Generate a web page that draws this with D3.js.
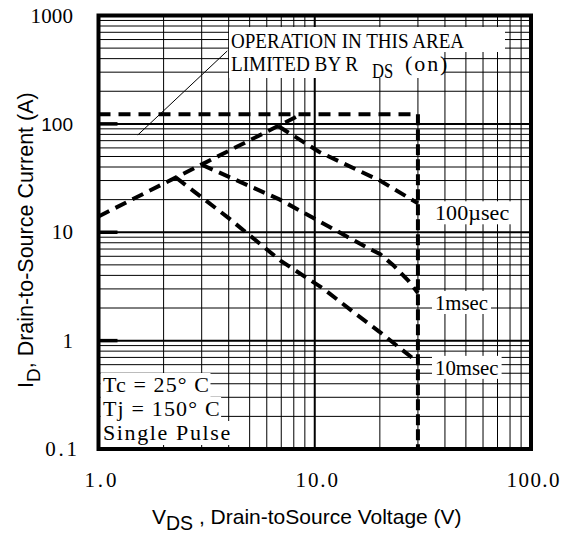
<!DOCTYPE html>
<html>
<head>
<meta charset="utf-8">
<script src="https://cdn.jsdelivr.net/npm/d3@7"></script>
<style>
  html, body { margin: 0; padding: 0; background: #fff; }
  svg { display: block; }
</style>
</head>
<body>
<svg id="chart" width="568" height="535"></svg>
<script>
// ---------------- data ----------------
const xDomain = [1, 100];
const yDomain = [0.1, 1000];
const xTickValues = [1, 10, 100];
const xTickLabels = ["1.0", "10.0", "100.0"];
const yTickValues = [1000, 100, 10, 1, 0.1];
const yTickLabels = ["1000", "100", "10", "1", "0.1"];
const yMajorMarks = [100, 10, 1];

const rdsLimit = [[1, 14], [8.7, 123]];
const currentLimit = [[1, 123], [30, 123]];
const voltageLimit = [[30, 123], [30, 0.1]];
const pulse100us = [[6.8, 95], [10.5, 55], [20, 30], [30, 18.5]];
const pulse1ms = [[3.0, 42], [6.9, 20], [17.5, 7.2], [20, 6.3], [23, 5.0], [27, 3.6], [30, 2.75]];
const pulse10ms = [[2.28, 32], [4, 13.5], [7, 5.4], [11, 3.0], [15, 1.85], [20, 1.2], [30, 0.63]];
const seriesNames = ["100µsec", "1msec", "10msec"];
const pointerLine = [[1.52, 79], [3.94, 471]];
const noteLines = ["Tc = 25° C", "Tj = 150° C", "Single Pulse"];

// ---------------- layout ----------------
const svg = d3.select("#chart");
const L = 98.5, R = 531, T = 15.5, B = 449;
const x = d3.scaleLog().domain(xDomain).range([L, R]);
const y = d3.scaleLog().domain(yDomain).range([B, T]);
const SERIF = "'Liberation Serif', 'DejaVu Serif', serif";
const SANS = "'Liberation Sans', Arial, sans-serif";
const ADV = 10.6;

svg.append("rect").attr("width", 568).attr("height", 535).attr("fill", "#fff");

// half-width "monospaced" serif text, like the original's CJK font
function mono(g, str, px, py, anchor, size) {
  const len = str.length * ADV;
  let sx = px;
  if (anchor === "end") sx = px - len;
  else if (anchor === "middle") sx = px - len / 2;
  const t = g.append("text")
    .attr("x", 0).attr("y", 0)
    .attr("font-family", SERIF)
    .attr("font-size", size || 21)
    .attr("fill", "#000")
    .text(str);
  const nat = t.node().getComputedTextLength();
  if (nat > len) {
    t.attr("transform", `translate(${sx},${py}) scale(${len / nat},1)`);
  } else {
    t.attr("transform", `translate(${sx},${py})`)
     .attr("textLength", len).attr("lengthAdjust", "spacing");
  }
  return t;
}

// ---------------- grid ----------------
const grid = svg.append("g");
const xt = x.ticks();
const yt = y.ticks();
const isMajor = v => Math.abs(Math.log10(v) - Math.round(Math.log10(v))) < 1e-9;

grid.selectAll("line.gx").data(xt.filter(v => v > xDomain[0] && v < xDomain[1]))
  .enter().append("line")
  .attr("x1", d => x(d)).attr("x2", d => x(d))
  .attr("y1", T).attr("y2", B)
  .attr("stroke", "#000")
  .attr("stroke-width", d => isMajor(d) ? 2 : 1);

grid.selectAll("line.gy").data(yt.filter(v => v > yDomain[0] && v < yDomain[1]))
  .enter().append("line")
  .attr("x1", L).attr("x2", R)
  .attr("y1", d => y(d)).attr("y2", d => y(d))
  .attr("stroke", "#000")
  .attr("stroke-width", d => isMajor(d) ? 2 : 1);

grid.selectAll("line.mk").data(yMajorMarks).enter().append("line")
  .attr("x1", L).attr("x2", L + 19)
  .attr("y1", d => y(d)).attr("y2", d => y(d))
  .attr("stroke", "#000").attr("stroke-width", 3.5);

// ---------------- annotation boxes ----------------
const ann = svg.append("g");
ann.append("rect").attr("x", 229).attr("y", 27).attr("width", 276).attr("height", 25).attr("fill", "#fff");
ann.append("rect").attr("x", 229).attr("y", 52).attr("width", 215).attr("height", 26).attr("fill", "#fff");
mono(ann, "OPERATION IN THIS AREA", 231, 48, "start", 22);
mono(ann, "LIMITED BY R", 231, 71, "start", 22);
mono(ann, "DS", 372, 78, "start", 22);
mono(ann, "(on)", 405, 71, "start", 22);

const noteBase = [392, 416, 440];
noteLines.forEach((s, i) => {
  const w = s.length * ADV + 4;
  ann.append("rect").attr("x", L + 2).attr("y", noteBase[i] - 19).attr("width", w).attr("height", 24).attr("fill", "#fff");
});
noteLines.forEach((s, i) => mono(ann, s, 103, noteBase[i], "start", 22));

const series = [pulse100us, pulse1ms, pulse10ms];
const labelDy = [17, 17, 12.5];
series.forEach((s, i) => {
  const end = s[s.length - 1];
  const by = y(end[1]) + labelDy[i];
  const w = seriesNames[i].length * ADV + 6;
  ann.append("rect").attr("x", 432).attr("y", by - 19).attr("width", w).attr("height", 23).attr("fill", "#fff");
  mono(ann, seriesNames[i], 435, by, "start", 22);
});

const line = d3.line().x(d => x(d[0])).y(d => y(d[1]));
svg.append("path").attr("d", line(pointerLine))
  .attr("fill", "none").attr("stroke", "#000").attr("stroke-width", 1);

// ---------------- curves ----------------
const curves = svg.append("g").attr("fill", "none").attr("stroke", "#000").attr("stroke-width", 4);
curves.append("path").attr("d", line(currentLimit)).attr("stroke-dasharray", "12,8");
curves.append("path").attr("d", line(voltageLimit)).attr("stroke-dasharray", "11,4");
curves.append("path").attr("d", line(rdsLimit)).attr("stroke-dasharray", "12,7");
series.forEach(s => curves.append("path").attr("d", line(s)).attr("stroke-dasharray", "12,7"));

// ---------------- frame ----------------
svg.append("rect").attr("x", L).attr("y", T).attr("width", R - L).attr("height", B - T)
  .attr("fill", "none").attr("stroke", "#000").attr("stroke-width", 4);

// ---------------- tick labels ----------------
const tl = svg.append("g");
yTickValues.forEach((v, i) => {
  const lab = yTickLabels[i];
  if (lab === "100") {
    tl.append("text").attr("x", 73).attr("y", y(v) + 7.5)
      .attr("text-anchor", "end").attr("font-family", SANS).attr("font-size", 19)
      .text(lab);
  } else {
    mono(tl, lab, lab === "0.1" ? 77 : 73, y(v) + 7, "end");
  }
});
xTickValues.forEach((v, i) => mono(tl, xTickLabels[i], x(v) + 2, 487, "middle"));

// ---------------- axis titles ----------------
const yt1 = svg.append("text")
  .attr("transform", "translate(33,388) rotate(-90)")
  .attr("font-family", SANS).attr("font-size", 21.5).attr("fill", "#000");
yt1.append("tspan").text("I");
yt1.append("tspan").attr("dy", 7).attr("font-size", 19).text("D");
yt1.append("tspan").attr("dy", -7).text(",  Drain-to-Source Current (A)");

const xt1 = svg.append("text")
  .attr("x", 152).attr("y", 524)
  .attr("font-family", SANS).attr("font-size", 21).attr("fill", "#000");
xt1.append("tspan").text("V");
xt1.append("tspan").attr("dy", 6).attr("font-size", 19.5).text("DS");
xt1.append("tspan").attr("dy", -6).text("   , Drain-toSource Voltage (V)");
</script>
</body>
</html>
